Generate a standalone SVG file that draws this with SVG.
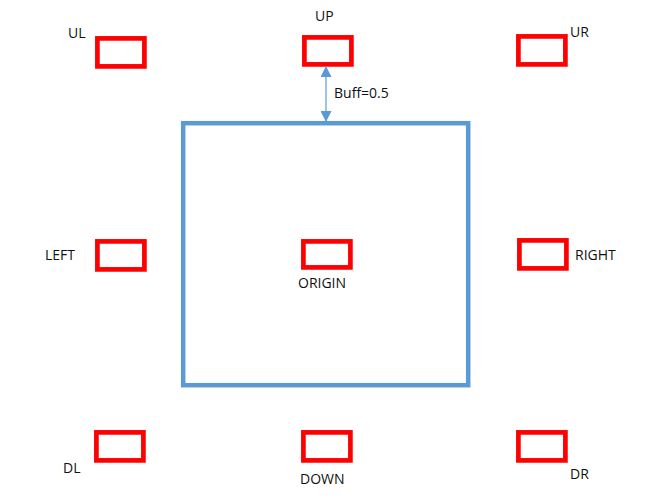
<svg xmlns="http://www.w3.org/2000/svg" width="656" height="498" viewBox="0 0 656 498">
<defs>
<style>
.box{fill:none;stroke:#FF0000;stroke-width:4.7}
.lbl{font-family:"Open Sans","Noto Sans",sans-serif;font-size:14px;fill:#111}
.frame{fill:none;stroke:#5B9BD5;stroke-width:4.5}
.conn{stroke:#5B9BD5;stroke-width:1.2;fill:none}
</style>
<marker id="ah" viewBox="0 0 10 10" refX="10" refY="5" markerWidth="11" markerHeight="11" markerUnits="userSpaceOnUse" orient="auto-start-reverse">
<path d="M0,0 L10,5 L0,10 Z" fill="#5B9BD5"/>
</marker>
</defs>
<rect width="656" height="498" fill="#fff"/>
<g id="frame"><rect class="frame" x="183.2" y="123.2" width="285" height="262"/></g>
<g id="UL"><rect class="box" x="97.4" y="38.4" width="47" height="28"/><text class="lbl" x="68" y="38">UL</text></g>
<g id="UP"><rect class="box" x="304.4" y="37.4" width="47" height="27"/><text class="lbl" x="315" y="21">UP</text></g>
<g id="UR"><rect class="box" x="518.4" y="36.4" width="47" height="28"/><text class="lbl" x="570" y="37">UR</text></g>
<g id="LEFT"><rect class="box" x="97.4" y="241.4" width="47" height="28"/><text class="lbl" x="45" y="260">LEFT</text></g>
<g id="ORIGIN"><rect class="box" x="303.4" y="241.4" width="47" height="26"/><text class="lbl" x="298" y="288">ORIGIN</text></g>
<g id="RIGHT"><rect class="box" x="519.4" y="240.4" width="47" height="28"/><text class="lbl" x="575" y="260">RIGHT</text></g>
<g id="DL"><rect class="box" x="96.4" y="432.4" width="47" height="28"/><text class="lbl" x="63" y="473">DL</text></g>
<g id="DOWN"><rect class="box" x="303.4" y="432.4" width="47" height="28"/><text class="lbl" x="300" y="484">DOWN</text></g>
<g id="DR"><rect class="box" x="518.4" y="432.4" width="47" height="28"/><text class="lbl" x="570" y="479">DR</text></g>
<g id="connectors">
<line class="conn" x1="326" y1="66" x2="326" y2="122" marker-start="url(#ah)" marker-end="url(#ah)"/>
<text class="lbl" x="334" y="98">Buff=0.5</text>
</g>
</svg>
